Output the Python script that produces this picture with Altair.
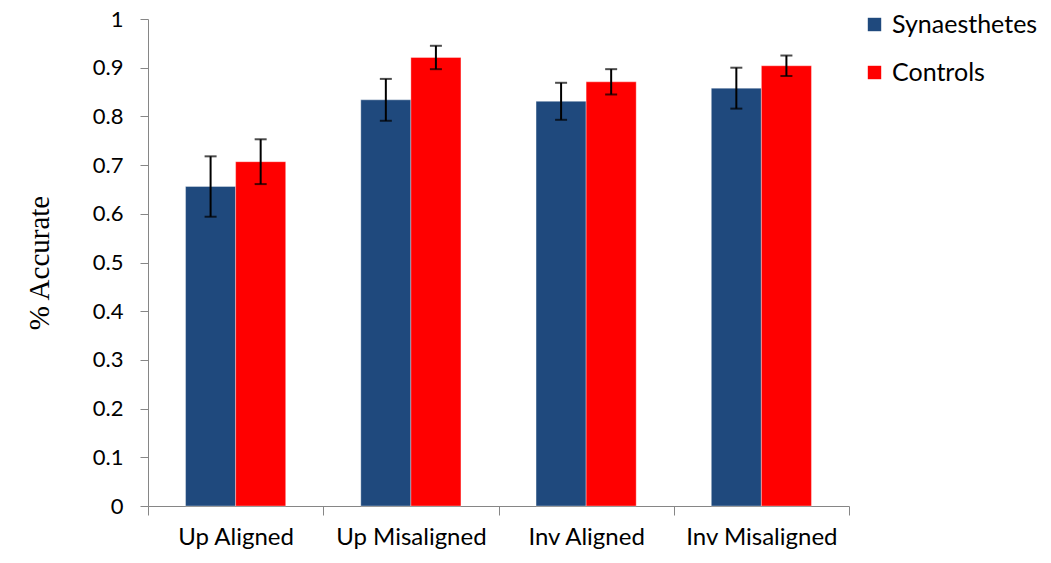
import altair as alt
import pandas as pd

conditions = ["Up Aligned", "Up Misaligned", "Inv Aligned", "Inv Misaligned"]
groups = ["Synaesthetes", "Controls"]
syn_values = [0.656, 0.834, 0.831, 0.858]
syn_errors = [0.062, 0.043, 0.038, 0.042]
ctl_values = [0.707, 0.921, 0.871, 0.904]
ctl_errors = [0.046, 0.024, 0.026, 0.021]
colors = ["#1F497D", "#FF0000"]

rows = []
for i, c in enumerate(conditions):
    rows.append({"cond": c, "group": groups[0], "val": syn_values[i], "err": syn_errors[i]})
    rows.append({"cond": c, "group": groups[1], "val": ctl_values[i], "err": ctl_errors[i]})
df = pd.DataFrame(rows)
df["lo"] = df["val"] - df["err"]
df["hi"] = df["val"] + df["err"]

FONT = "Lato"

x_enc = alt.X("cond:N", sort=conditions, title=None,
              scale=alt.Scale(paddingInner=0, paddingOuter=0),
              axis=alt.Axis(labelAngle=0, labelFontSize=24, labelFont=FONT, labelColor="#000000",
                            tickBand="extent", tickSize=9, tickColor="#868686",
                            domainColor="#868686", labelPadding=10))
xo_enc = alt.XOffset("group:N", sort=groups, scale=alt.Scale(paddingInner=0, paddingOuter=0.75))

bars = alt.Chart(df).mark_bar(stroke="#ffffff", strokeOpacity=0.35, strokeWidth=1).encode(
    x=x_enc,
    xOffset=xo_enc,
    y=alt.Y("val:Q", title="% Accurate",
            scale=alt.Scale(domain=[0, 1]),
            axis=alt.Axis(values=[0, 0.1, 0.2, 0.3, 0.4, 0.5, 0.6, 0.7, 0.8, 0.9, 1],
                          format="~g", grid=False, tickSize=8, tickColor="#868686",
                          domainColor="#868686", labelFontSize=22, labelFont=FONT,
                          labelColor="#000000", labelPadding=17,
                          titleFont="Liberation Serif", titleFontSize=29,
                          titleFontWeight="normal", titleColor="#000000", titlePadding=38)),
    color=alt.Color("group:N", sort=groups,
                    scale=alt.Scale(domain=groups, range=colors),
                    legend=alt.Legend(title=None, orient="none", legendX=714, legendY=-7,
                                      padding=0, symbolType="square", symbolSize=180,
                                      symbolStrokeWidth=0, labelFontSize=25,
                                      labelFont=FONT, labelColor="#000000",
                                      rowPadding=22, labelOffset=5)),
)

rules = alt.Chart(df).mark_rule(color="#000000", strokeWidth=2).encode(
    x=alt.X("cond:N", sort=conditions),
    xOffset=alt.XOffset("group:N", sort=groups),
    y="lo:Q",
    y2="hi:Q",
)
caps_lo = alt.Chart(df).mark_tick(color="#000000", thickness=2, size=12, orient="horizontal").encode(
    x=alt.X("cond:N", sort=conditions),
    xOffset=alt.XOffset("group:N", sort=groups),
    y="lo:Q",
)
caps_hi = alt.Chart(df).mark_tick(color="#000000", thickness=2, size=12, orient="horizontal").encode(
    x=alt.X("cond:N", sort=conditions),
    xOffset=alt.XOffset("group:N", sort=groups),
    y="hi:Q",
)

chart = alt.layer(bars, rules, caps_lo, caps_hi).properties(
    width=701, height=487, background="#ffffff",
    padding={"top": 0, "left": 17, "right": 0, "bottom": 0},
).configure_view(stroke=None)

chart.save("out.html", embed_options={"renderer": "svg", "actions": False})
